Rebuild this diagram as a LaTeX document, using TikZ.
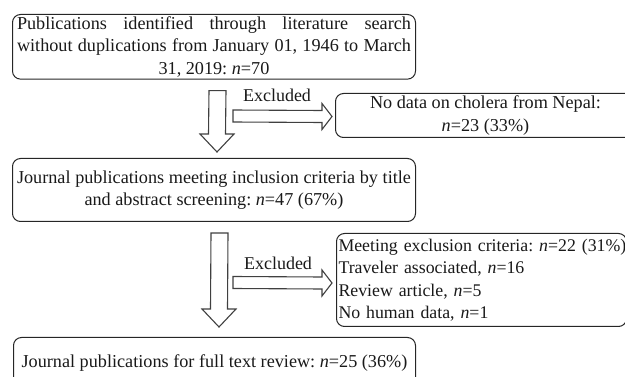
\documentclass[tikz,border=0pt]{standalone}
\usepackage{fontspec}
\setmainfont{Liberation Serif}
\usetikzlibrary{calc}
\frenchspacing
\setlength\parindent{0pt}
\tikzset{
  box/.style={draw=black!85, line width=1pt, rounded corners=8pt, anchor=north west, inner sep=2pt,
    font=\fontsize{18.2}{22.5}\selectfont, text=black!90},
  blk/.style={draw=black!75, line width=1.1pt, fill=white, line join=miter},
  lbl/.style={font=\fontsize{18}{22}\selectfont, text=black!90, inner sep=0pt}
}
\begin{document}
\begin{tikzpicture}[x=1pt,y=-1pt]
\useasboundingbox (0,0) rectangle (625,377);
% boxes
\node[box, minimum width=403pt, minimum height=63pt, align=center] (b1) at (12,14)
 {\makebox[394pt][s]{Publications identified through literature search}\\
  \makebox[394pt][s]{without duplications from January 01, 1946 to March}\\
  31, 2019: \textit{n}=70};
\node[box, minimum width=300pt, minimum height=44pt, align=center] (b2) at (335,93)
 {No data on cholera from Nepal:\\ \textit{n}=23 (33\%)};
\node[box, font=\fontsize{17.8}{22.5}\selectfont, minimum height=93pt, text width=286pt, align=left] (b4) at (336,233)
 {\noindent\mbox{Meeting exclusion criteria: \textit{n}=22 (31\%)}\\
  Traveler associated, \textit{n}=16\\
  Review article, \textit{n}=5\\
  No human data, \textit{n}=1};
\node[box, minimum width=403pt, minimum height=63pt, align=center] (b3) at (12,158)
 {\makebox[394pt][s]{Journal publications meeting inclusion criteria by title}\\
  and abstract screening: \textit{n}=47 (67\%)};
\node[box, minimum width=402pt, minimum height=52pt, align=center] (b5) at (13,337)
 {\raisebox{-4pt}[0pt][0pt]{Journal publications for full text review: \textit{n}=25 (36\%)}};
% connector end points
\coordinate (d1s) at ($(b1.south)+(3.5,11)$);
\coordinate (d1e) at (217,152);
\coordinate (d2s) at ($(b3.south)+(5.5,11)$);
\coordinate (d2e) at (219,327);
\coordinate (r1s) at (233,116);
\coordinate (r1e) at ($(b2.west)+(-3,1)$);
\coordinate (r2s) at (233,282.5);
\coordinate (r2e) at ($(b4.west)+(-4,3)$);
% down block arrows
\foreach \s/\e in {d1s/d1e, d2s/d2e}{
  \draw[blk] ($(\s)+(-8.5,0)$) -- ($(\s)+(8.5,0)$) -- ($(\e)+(8.5,-18)$) -- ($(\e)+(17,-18)$)
    -- (\e) -- ($(\e)+(-17,-18)$) -- ($(\e)+(-8.5,-18)$) -- cycle;
}
% right block arrows
\foreach \s/\e in {r1s/r1e, r2s/r2e}{
  \draw[blk] ($(\s)+(0,-6)$) -- ($(\e)+(-10,-6)$) -- ($(\e)+(-10,-13)$) -- (\e)
    -- ($(\e)+(-10,13)$) -- ($(\e)+(-10,6)$) -- ($(\s)+(0,6)$) -- cycle;
}
\node[lbl] (x1) at (277,95) {Excluded};
\node[lbl] (x2) at (278,263) {Excluded};
\end{tikzpicture}
\end{document}
